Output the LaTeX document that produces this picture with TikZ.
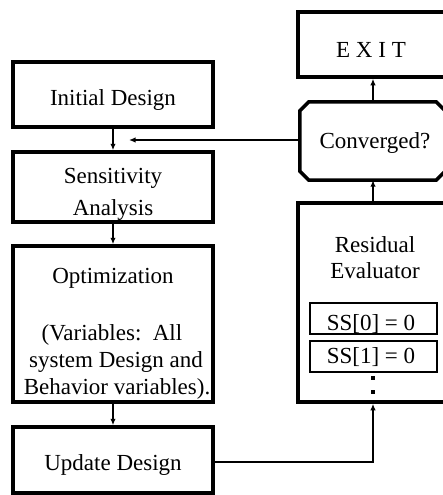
\documentclass[tikz,border=0pt]{standalone}
\usepackage{fontspec}
\setmainfont{Liberation Serif}
\usetikzlibrary{arrows.meta,calc}
\begin{document}
\begin{tikzpicture}[x=1pt,y=-1pt,
  box/.style={draw, line width=3.5pt, inner sep=0pt, minimum width=200pt},
  rbox/.style={draw, line width=3.5pt, inner sep=0pt, minimum width=147pt},
  ssbox/.style={draw, line width=1.3pt, inner sep=0pt, minimum width=127pt, minimum height=31pt},
  txt/.style={anchor=base, inner sep=0pt, font=\fontsize{23}{27}\selectfont},
  conn/.style={line width=1.4pt, -{Latex[length=6.5pt,width=5.5pt]}},
  dot/.style={fill, inner sep=0pt, minimum size=4.5pt}]
\useasboundingbox (0,0) rectangle (443,495);
% left column boxes
\node[box, minimum height=65pt] (init) at (113,94.5) {};
\node[box, minimum height=70pt] (sens) at (113,187) {};
\node[box, minimum height=156pt] (opt) at (113,324) {};
\node[box, minimum height=66pt] (upd) at (113,460) {};
% right column
\node[rbox, minimum height=65pt] (exit) at (371.5,44.5) {};
\node[inner sep=0pt, minimum width=145pt, minimum height=78pt] (conv) at (372.5,141) {};
\draw[line width=3.5pt, line join=miter]
  ($(conv.north west)+(9,0)$) -- ($(conv.north east)+(-9,0)$) -- ($(conv.north east)+(0,9)$)
  -- ($(conv.south east)+(0,-9)$) -- ($(conv.south east)+(-9,0)$) -- ($(conv.south west)+(9,0)$)
  -- ($(conv.south west)+(0,-9)$) -- ($(conv.north west)+(0,9)$) -- cycle;
\node[rbox, minimum height=199pt] (res) at (371.5,302.5) {};
\node[ssbox] (ss0) at (373.5,318.5) {};
\node[ssbox] (ss1) at (373.5,356.5) {};
\node[dot] (d1) at (373,378) {};
\node[dot] (d2) at (373,392) {};
% texts
\node[txt] (tinit) at (113,105) {Initial Design};
\node[txt] (tsens1) at (113,183) {Sensitivity};
\node[txt] (tsens2) at (113,215) {Analysis};
\node[txt] (topt1) at (113,283) {Optimization};
\node[txt] (topt2) at (112,340) {(Variables:\ \ All};
\node[txt] (topt3) at (116,367) {system Design and};
\node[txt] (topt4) at (117,394) {Behavior variables).};
\node[txt] (tupd) at (113,470) {Update Design};
\node[txt] (texit) at (371,57) {E X I T};
\node[txt] (tconv) at (375,148) {Converged?};
\node[txt] (tres1) at (375,252) {Residual};
\node[txt] (tres2) at (375,278) {Evaluator};
\node[txt] (tss0) at (371,330) {SS[0] = 0};
\node[txt] (tss1) at (371,363) {SS[1] = 0};
% connectors
\draw[conn] (init.south) -- (sens.north);
\draw[conn] (sens.south) -- (opt.north);
\draw[conn] (opt.south) -- (upd.north);
\coordinate (fb) at (129,140);
\draw[conn] (conv.west |- fb) -- (fb);
\draw[conn] (res.north -| 373,0) -- (conv.south -| 373,0);
\draw[conn] (conv.north -| 373,0) -- (exit.south -| 373,0);
\draw[conn] (upd.east |- 0,462) -| (res.south -| 373,0);
\end{tikzpicture}
\end{document}
